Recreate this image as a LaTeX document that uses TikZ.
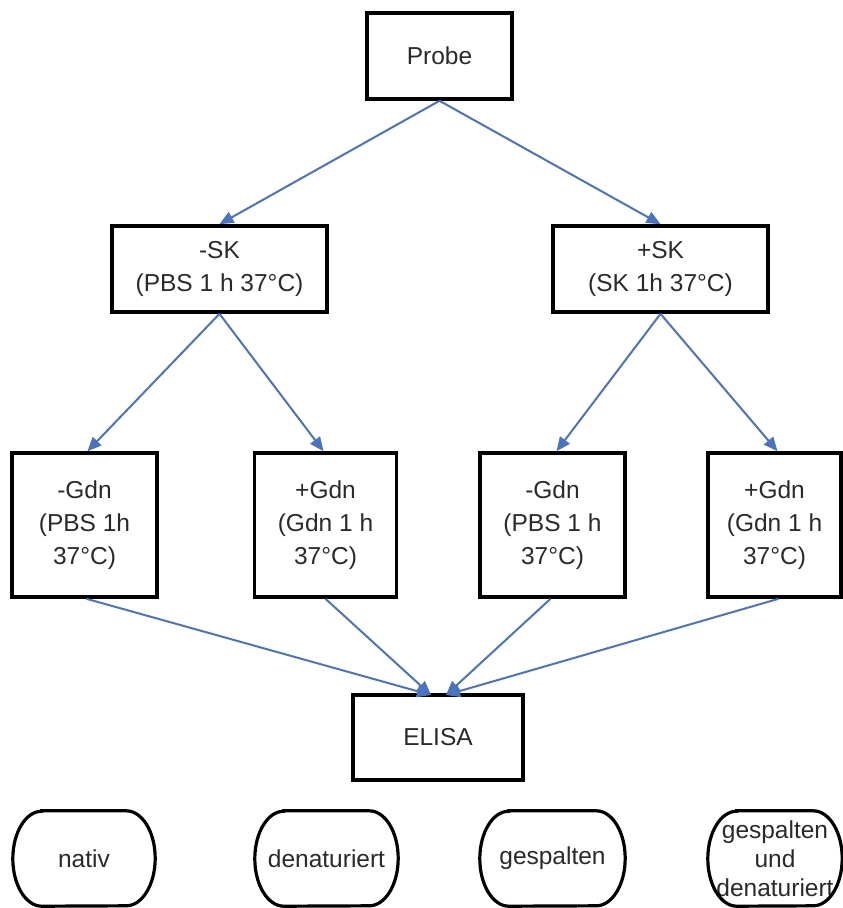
\documentclass[tikz,border=0pt]{standalone}
\usepackage{fontspec}
\setmainfont{Liberation Sans}
\usetikzlibrary{arrows.meta}
\definecolor{arrowblue}{HTML}{4A74BF}
\definecolor{txt}{HTML}{2A2A2A}
\begin{document}
\begin{tikzpicture}[x=1pt,y=-1pt,
  every node/.style={font=\fontsize{24.5}{33}\selectfont, text=txt, align=center, inner sep=0pt},
  box/.style={draw=black, line width=3.6pt, fill=white},
  pill/.style={minimum width=#1, minimum height=95pt},
  pilledge/.style={draw=black, line width=3.2pt},
  flow/.style={draw=arrowblue, line width=2pt, -{Triangle[length=14pt,width=12pt]}}
]
\useasboundingbox[fill=white] (0,0) rectangle (843,908);

\node[box, minimum width=145pt, minimum height=86pt] (probe) at (439.5,56) {Probe};
\node[box, minimum width=215pt, minimum height=86pt] (skm) at (219.5,269) {-SK\\(PBS 1 h 37°C)};
\node[box, minimum width=215pt, minimum height=86pt] (skp) at (660.5,269) {+SK\\(SK 1h 37°C)};

\node[box, minimum width=145pt, minimum height=144pt] (g1) at (84.5,525) {-Gdn\\(PBS 1h\\37°C)};
\node[box, minimum width=142pt, minimum height=144pt] (g2) at (325.5,525) {+Gdn\\(Gdn 1 h\\37°C)};
\node[box, minimum width=145pt, minimum height=144pt] (g3) at (552.5,525) {-Gdn\\(PBS 1 h\\37°C)};
\node[box, minimum width=133pt, minimum height=144pt] (g4) at (774.5,525) {+Gdn\\(Gdn 1 h\\37°C)};

\node[box, minimum width=170pt, minimum height=85pt] (elisa) at (438,737.5) {ELISA};
\coordinate (e1) at (431,695);
\coordinate (e2) at (446,695);

\node[pill=142pt] (r1) at (84,858.5) {nativ};
\node[pill=143pt] (r2) at (326.5,858.5) {denaturiert};
\node[pill=145pt] (r3) at (552.5,858.5) {gespalten};
\node[pill=134pt] (r4) at (775,858.5) {gespalten\\[-4pt]und\\[-4pt]denaturiert};

\foreach \n in {r1,r2,r3,r4}{
  \draw[pilledge] ([xshift=29pt]\n.north west) -- ([xshift=-29pt]\n.north east)
    arc[start angle=90, end angle=-90, x radius=29pt, y radius=47.5pt]
    -- ([xshift=29pt]\n.south west)
    arc[start angle=270, end angle=90, x radius=29pt, y radius=47.5pt] -- cycle;
}

\draw[flow] (probe.south) -- (skm.north);
\draw[flow] (probe.south) -- (skp.north);
\draw[flow] (skm.south) -- ([xshift=3pt]g1.north);
\draw[flow] (skm.south) -- ([xshift=-2pt]g2.north);
\draw[flow] (skp.south) -- ([xshift=4pt]g3.north);
\draw[flow] (skp.south) -- ([xshift=3pt]g4.north);
\draw[flow] ([xshift=2pt]g1.south) -- (e1);
\draw[flow] (g2.south) -- (e1);
\draw[flow] ([xshift=-2pt]g3.south) -- (e2);
\draw[flow] ([xshift=4pt]g4.south) -- (e2);
\end{tikzpicture}
\end{document}
